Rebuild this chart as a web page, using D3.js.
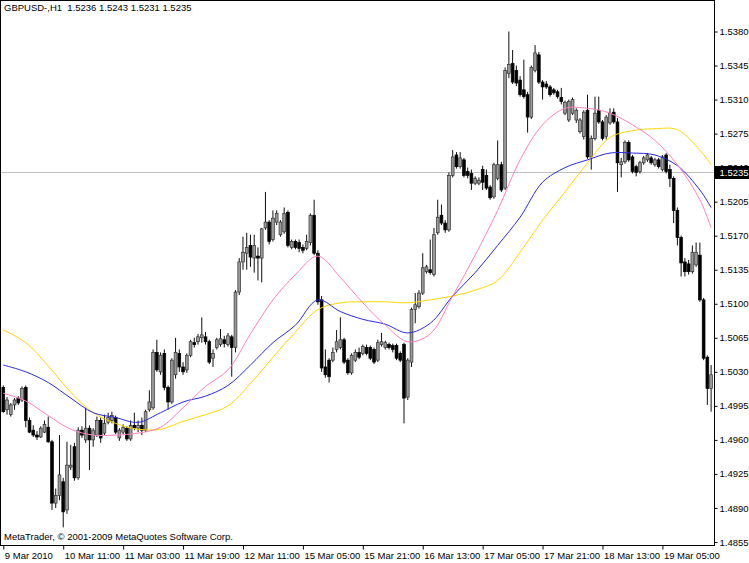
<!DOCTYPE html>
<html><head><meta charset="utf-8">
<script src="https://cdn.jsdelivr.net/npm/d3@7"></script>
<style>
html,body{margin:0;padding:0;background:#fff;}
svg{display:block;}
text{font-family:"Liberation Sans",Arial,sans-serif;font-size:9.5px;fill:#000;}
</style></head><body>
<svg id="c" width="749" height="563"></svg>
<script>
const symbol = "GBPUSD-,H1";
const lastQuote = [1.5236, 1.5243, 1.5231, 1.5235];
const bidPrice = 1.5235;
const copyright = "MetaTrader, \u00A9 2001-2009 MetaQuotes Software Corp.";
const priceTicks = [1.5380,1.5345,1.5310,1.5275,1.5240,1.5205,1.5170,1.5135,1.5100,1.5065,1.5030,1.4995,1.4960,1.4925,1.4890,1.4855];
const timeTickBars = [0,16,32,48,64,80,96,112,128,144,160,176];
const timeTickLabels = ["9 Mar 2010","10 Mar 11:00","11 Mar 03:00","11 Mar 19:00","12 Mar 11:00","15 Mar 05:00","15 Mar 21:00","16 Mar 13:00","17 Mar 05:00","17 Mar 21:00","18 Mar 13:00","19 Mar 05:00"];

const open = [1.5014,1.4991,1.4986,1.4996,1.5003,1.5001,1.5014,1.4980,1.4970,1.4965,1.4963,1.4968,1.4973,1.4958,1.4895,1.4903,1.4917,1.4888,1.4932,1.4953,
1.4921,1.4970,1.4960,1.4972,1.4960,1.4965,1.4980,1.4967,1.4978,1.4980,1.4983,1.4962,1.4968,1.4972,1.4961,1.4975,1.4972,1.4975,1.4970,1.4991,
1.4993,1.5050,1.5030,1.5049,1.5014,1.4999,1.5027,1.5049,1.5035,1.5032,1.5047,1.5060,1.5061,1.5065,1.5066,1.5061,1.5044,1.5055,1.5058,1.5063,
1.5058,1.5066,1.5055,1.5112,1.5143,1.5152,1.5160,1.5147,1.5149,1.5147,1.5178,1.5184,1.5166,1.5184,1.5171,1.5174,1.5194,1.5158,1.5164,1.5163,
1.5158,1.5157,1.5163,1.5191,1.5152,1.5104,1.5035,1.5042,1.5042,1.5053,1.5055,1.5063,1.5042,1.5029,1.5042,1.5050,1.5049,1.5055,1.5055,1.5053,
1.5042,1.5058,1.5055,1.5058,1.5057,1.5057,1.5049,1.5058,1.5004,1.5040,1.5094,1.5097,1.5111,1.5133,1.5135,1.5130,1.5173,1.5191,1.5183,1.5176,
1.5232,1.5253,1.5241,1.5248,1.5236,1.5234,1.5224,1.5224,1.5238,1.5232,1.5220,1.5210,1.5229,1.5243,1.5219,1.5337,1.5347,1.5340,1.5330,1.5320,
1.5315,1.5292,1.5340,1.5356,1.5328,1.5326,1.5323,1.5320,1.5318,1.5312,1.5296,1.5289,1.5296,1.5289,1.5277,1.5272,1.5299,1.5251,1.5270,1.5299,
1.5287,1.5272,1.5286,1.5297,1.5287,1.5243,1.5246,1.5266,1.5251,1.5241,1.5236,1.5245,1.5248,1.5250,1.5243,1.5248,1.5238,1.5253,1.5238,1.5229,
1.5196,1.5168,1.5143,1.5141,1.5133,1.5140,1.5150,1.5104,1.5045,1.5013];
const high = [1.5016,1.5004,1.4998,1.5003,1.5005,1.5015,1.5016,1.4983,1.4975,1.4969,1.4974,1.4980,1.4984,1.4960,1.4910,1.4965,1.4921,1.4958,1.4955,1.4957,
1.4973,1.4974,1.4993,1.4975,1.4972,1.4984,1.4983,1.4986,1.4988,1.4989,1.4985,1.4972,1.4976,1.4974,1.4980,1.4988,1.4980,1.4983,1.4991,1.5011,
1.5053,1.5063,1.5050,1.5053,1.5016,1.5044,1.5065,1.5053,1.5040,1.5049,1.5063,1.5065,1.5069,1.5086,1.5071,1.5063,1.5053,1.5065,1.5074,1.5067,
1.5070,1.5068,1.5114,1.5147,1.5169,1.5173,1.5171,1.5171,1.5158,1.5178,1.5215,1.5186,1.5196,1.5196,1.5186,1.5199,1.5196,1.5166,1.5166,1.5166,
1.5161,1.5171,1.5193,1.5207,1.5155,1.5108,1.5053,1.5044,1.5055,1.5073,1.5086,1.5065,1.5044,1.5049,1.5053,1.5055,1.5058,1.5058,1.5057,1.5055,
1.5063,1.5070,1.5062,1.5060,1.5059,1.5059,1.5051,1.5060,1.5044,1.5096,1.5111,1.5114,1.5152,1.5140,1.5166,1.5178,1.5207,1.5202,1.5186,1.5235,
1.5258,1.5256,1.5256,1.5250,1.5240,1.5238,1.5231,1.5230,1.5242,1.5238,1.5222,1.5245,1.5268,1.5246,1.5343,1.5380,1.5361,1.5345,1.5334,1.5351,
1.5318,1.5345,1.5366,1.5359,1.5330,1.5329,1.5325,1.5322,1.5320,1.5322,1.5309,1.5310,1.5312,1.5301,1.5291,1.5299,1.5315,1.5273,1.5313,1.5313,
1.5289,1.5294,1.5301,1.5301,1.5291,1.5250,1.5268,1.5268,1.5253,1.5243,1.5247,1.5252,1.5255,1.5252,1.5250,1.5250,1.5253,1.5255,1.5243,1.5231,
1.5199,1.5170,1.5147,1.5145,1.5160,1.5163,1.5163,1.5106,1.5047,1.5037];
const low = [1.4988,1.4986,1.4984,1.4991,1.4996,1.4999,1.4973,1.4967,1.4963,1.4960,1.4962,1.4967,1.4957,1.4888,1.4890,1.4898,1.4870,1.4884,1.4929,1.4918,
1.4919,1.4962,1.4957,1.4929,1.4953,1.4963,1.4957,1.4965,1.4976,1.4977,1.4966,1.4959,1.4966,1.4959,1.4959,1.4970,1.4968,1.4965,1.4968,1.4989,
1.4991,1.5030,1.5027,1.5011,1.4991,1.4997,1.5023,1.5030,1.5027,1.5029,1.5045,1.5055,1.5058,1.5060,1.5058,1.5038,1.5035,1.5053,1.5056,1.5055,
1.5056,1.5025,1.5050,1.5109,1.5135,1.5135,1.5138,1.5132,1.5124,1.5122,1.5176,1.5161,1.5164,1.5181,1.5169,1.5172,1.5158,1.5156,1.5156,1.5153,
1.5152,1.5155,1.5160,1.5150,1.5099,1.5030,1.5024,1.5019,1.5040,1.5050,1.5053,1.5038,1.5027,1.5027,1.5040,1.5043,1.5047,1.5047,1.5042,1.5038,
1.5040,1.5056,1.5053,1.5053,1.5050,1.5042,1.5040,1.4977,1.5001,1.5035,1.5080,1.5095,1.5109,1.5131,1.5130,1.5128,1.5171,1.5181,1.5173,1.5174,
1.5230,1.5239,1.5239,1.5230,1.5229,1.5217,1.5222,1.5222,1.5217,1.5217,1.5207,1.5208,1.5227,1.5215,1.5217,1.5332,1.5326,1.5324,1.5313,1.5311,
1.5276,1.5290,1.5338,1.5326,1.5310,1.5321,1.5313,1.5315,1.5311,1.5305,1.5294,1.5287,1.5294,1.5286,1.5275,1.5269,1.5249,1.5238,1.5268,1.5285,
1.5268,1.5269,1.5284,1.5285,1.5215,1.5230,1.5244,1.5246,1.5234,1.5231,1.5234,1.5243,1.5246,1.5243,1.5241,1.5239,1.5236,1.5234,1.5220,1.5183,
1.5160,1.5128,1.5128,1.5130,1.5131,1.5138,1.5102,1.5042,1.4996,1.4989];
const close = [1.4989,1.5001,1.4996,1.5001,1.4998,1.5013,1.4980,1.4968,1.4965,1.4963,1.4972,1.4976,1.4958,1.4895,1.4903,1.4924,1.4886,1.4934,1.4934,1.4921,
1.4970,1.4965,1.4972,1.4960,1.4970,1.4980,1.4962,1.4977,1.4983,1.4985,1.4968,1.4970,1.4973,1.4961,1.4975,1.4972,1.4975,1.4970,1.4989,1.4999,
1.5050,1.5032,1.5047,1.5014,1.4999,1.5042,1.5050,1.5035,1.5030,1.5047,1.5061,1.5058,1.5066,1.5068,1.5061,1.5040,1.5049,1.5063,1.5064,1.5059,
1.5067,1.5055,1.5112,1.5143,1.5153,1.5158,1.5148,1.5160,1.5147,1.5177,1.5184,1.5164,1.5188,1.5193,1.5184,1.5193,1.5160,1.5164,1.5158,1.5157,
1.5155,1.5164,1.5191,1.5152,1.5102,1.5034,1.5027,1.5025,1.5050,1.5061,1.5063,1.5040,1.5029,1.5047,1.5050,1.5045,1.5056,1.5049,1.5044,1.5040,
1.5060,1.5061,1.5060,1.5055,1.5053,1.5044,1.5042,1.5003,1.5042,1.5094,1.5099,1.5111,1.5137,1.5138,1.5132,1.5171,1.5189,1.5183,1.5176,1.5232,
1.5251,1.5241,1.5250,1.5232,1.5232,1.5224,1.5229,1.5227,1.5225,1.5219,1.5209,1.5243,1.5243,1.5217,1.5340,1.5346,1.5328,1.5327,1.5315,1.5313,
1.5292,1.5343,1.5358,1.5328,1.5323,1.5323,1.5315,1.5317,1.5313,1.5308,1.5307,1.5308,1.5310,1.5299,1.5289,1.5297,1.5251,1.5270,1.5296,1.5287,
1.5270,1.5292,1.5296,1.5287,1.5245,1.5246,1.5266,1.5248,1.5236,1.5235,1.5245,1.5250,1.5253,1.5245,1.5248,1.5241,1.5251,1.5236,1.5229,1.5196,
1.5168,1.5142,1.5133,1.5133,1.5153,1.5153,1.5104,1.5044,1.5013,1.5027];

const maBars = [0,6,12,18,24,30,36,42,48,54,60,66,72,78,84,90,96,102,108,114,120,126,132,138,144,150,156,162,168,174,180,186,189];
const maSlow = [1.5073,1.5060,1.5036,1.5009,1.4988,1.4977,1.4971,1.4971,1.4979,1.4986,1.4995,1.5018,1.5045,1.5071,1.5094,1.5101,1.5102,1.5102,1.5101,1.5104,1.5108,1.5114,1.5124,1.5153,1.5186,1.5215,1.5245,1.5271,1.5278,1.5280,1.5279,1.5258,1.5243];
const maMid = [1.5037,1.5030,1.5019,1.5003,1.4988,1.4983,1.4978,1.4988,1.4999,1.5005,1.5016,1.5037,1.5060,1.5078,1.5104,1.5092,1.5084,1.5079,1.5070,1.5080,1.5108,1.5132,1.5160,1.5189,1.5225,1.5240,1.5248,1.5255,1.5255,1.5253,1.5242,1.5217,1.5199];
const maFast = [1.5008,1.5000,1.4985,1.4971,1.4965,1.4965,1.4967,1.4973,1.4993,1.5015,1.5032,1.5069,1.5104,1.5130,1.5149,1.5127,1.5101,1.5078,1.5061,1.5069,1.5108,1.5150,1.5196,1.5248,1.5284,1.5301,1.5301,1.5296,1.5284,1.5268,1.5243,1.5207,1.5178];

const W = 749, H = 563;
const plotR = 714.5, plotB = 545.5;
const svg = d3.select("#c");
svg.append("rect").attr("width", W).attr("height", H).attr("fill", "#fff");

const x = d3.scaleLinear().domain([0, open.length - 1]).range([3.3, 711.1]);
const y = d3.scaleLinear().domain([1.4855, 1.5380]).range([542, 31.5]);

svg.append("defs").append("clipPath").attr("id", "clip")
  .append("rect").attr("x", 1).attr("y", 1).attr("width", plotR - 1).attr("height", plotB - 1);

const plot = svg.append("g").attr("clip-path", "url(#clip)");

// bid line
plot.append("line").attr("x1", 0).attr("x2", plotR).attr("y1", Math.round(y(bidPrice)) + 0.5).attr("y2", Math.round(y(bidPrice)) + 0.5)
  .attr("stroke", "#c0c0c0").attr("stroke-width", 1);

const bars = d3.range(open.length).map(i => ({i, o: open[i], h: high[i], l: low[i], c: close[i]}));
const bw = 2.8;
const cg = plot.append("g");
cg.selectAll("line.w").data(bars).join("line").attr("class", "w")
  .attr("x1", d => x(d.i)).attr("x2", d => x(d.i))
  .attr("y1", d => y(d.h)).attr("y2", d => y(d.l))
  .attr("stroke", "#000").attr("stroke-width", 0.95);
cg.selectAll("rect.b").data(bars).join("rect").attr("class", "b")
  .attr("x", d => x(d.i) - bw / 2)
  .attr("y", d => y(Math.max(d.o, d.c)))
  .attr("width", bw)
  .attr("height", d => Math.max(0.9, Math.abs(y(d.o) - y(d.c))))
  .attr("fill", d => d.c >= d.o ? "#9a9a9a" : "#000")
  .attr("stroke", d => d.c >= d.o ? "#333" : "#000").attr("stroke-width", 0.7);

// moving averages
const maLine = vals => d3.line().x((d, k) => x(maBars[k])).y(d => y(d)).curve(d3.curveCatmullRom.alpha(0.5))(vals);
plot.append("path").attr("d", maLine(maSlow)).attr("fill", "none").attr("stroke", "#ffd700").attr("stroke-width", 1);
plot.append("path").attr("d", maLine(maMid)).attr("fill", "none").attr("stroke", "#2a2ae0").attr("stroke-width", 1);
plot.append("path").attr("d", maLine(maFast)).attr("fill", "none").attr("stroke", "#ff80c0").attr("stroke-width", 1);

// frame
svg.append("rect").attr("x", 0.5).attr("y", 0.5).attr("width", plotR - 0.5).attr("height", plotB - 0.5)
  .attr("fill", "none").attr("stroke", "#000").attr("stroke-width", 1);

// price axis
const ya = svg.append("g").attr("transform", `translate(${plotR},0)`)
  .call(d3.axisRight(y).tickValues(priceTicks).tickSize(3).tickPadding(2).tickFormat(d3.format(".4f")));
ya.select(".domain").remove();
ya.selectAll("text").style("font-family", '"Liberation Sans",Arial,sans-serif').style("font-size", "9.5px").attr("fill", "#000");
ya.selectAll("line").attr("stroke", "#000");

// bid label (covers the tick label beneath it, as in the terminal)
const by = y(bidPrice);
svg.append("rect").attr("x", plotR + 0.5).attr("y", by - 6.5).attr("width", W - plotR).attr("height", 13).attr("fill", "#000");
svg.append("text").attr("x", plotR + 5).attr("y", by + 3.5).attr("fill", "#fff").style("fill", "#fff").text(d3.format(".4f")(bidPrice));

// time axis
const xa = svg.append("g").attr("transform", `translate(0,${plotB})`)
  .call(d3.axisBottom(x).tickValues(timeTickBars).tickSize(4).tickPadding(3).tickFormat((d, k) => timeTickLabels[k]));
xa.select(".domain").remove();
xa.selectAll("text").attr("text-anchor", "start").attr("x", 1)
  .style("font-family", '"Liberation Sans",Arial,sans-serif').style("font-size", "9.5px").attr("fill", "#000");
xa.selectAll("line").attr("stroke", "#000");

// title and copyright
svg.append("text").attr("x", 4).attr("y", 11).attr("xml:space", "preserve").style("white-space", "pre")
  .text(symbol + "  " + lastQuote.map(d3.format(".4f")).join(" "));
svg.append("text").attr("x", 4).attr("y", 540).text(copyright);
</script>
</body></html>
